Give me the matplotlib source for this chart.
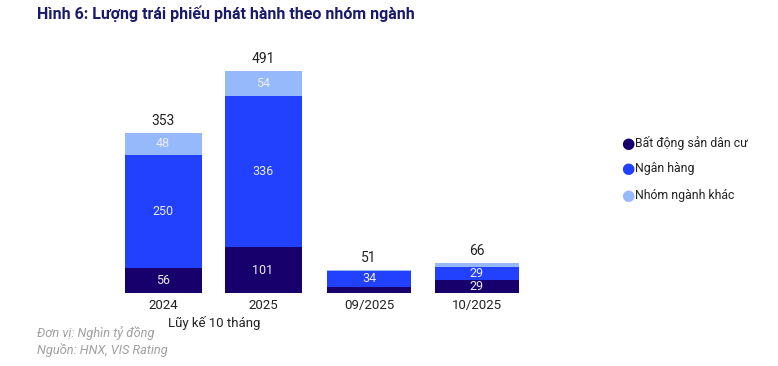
import matplotlib
matplotlib.use('Agg')
import matplotlib.pyplot as plt
import numpy as np

plt.rcParams['font.family'] = ['Roboto', 'DejaVu Sans']

# data (nghìn tỷ đồng)
cum_labels = ['2024', '2025']
cum_bds = [56, 101]
cum_bank = [250, 336]
cum_other = [48, 54]
cum_total = [353, 491]

month_labels = ['09/2025', '10/2025']
month_bds = [14, 29]
month_bank = [34, 29]
month_other = [3, 8]
month_total = [51, 66]

series_names = ['Bất động sản dân cư', 'Ngân hàng', 'Nhóm ngành khác']
colors = ['#17006b', '#2141ff', '#96b9fb']

W, H = 778, 366
fig = plt.figure(figsize=(W / 100, H / 100), dpi=100)

base_y = 293
top_y = 40
ymax = 560


def px_axes(x0, x1):
    return fig.add_axes([x0 / W, 1 - base_y / H, (x1 - x0) / W, (base_y - top_y) / H])


def draw(ax, labels, bds, bank, other, totals):
    x = np.arange(len(labels))
    bottom = np.zeros(len(labels))
    for vals, col in zip([bds, bank, other], colors):
        vals = np.array(vals, dtype=float)
        ax.bar(x, vals, width=0.77, bottom=bottom, color=col, linewidth=0)
        for xi, b, v in zip(x, bottom, vals):
            if v >= 20:
                ax.text(xi, b + v / 2, f'{int(v)}', ha='center', va='center',
                        color='#ececf6', fontsize=9)
        bottom += vals
    for xi, t in zip(x, totals):
        ax.text(xi, t + 12, f'{t}', ha='center', va='bottom', color='#222222', fontsize=10)
    ax.set_xlim(-0.5, len(labels) - 0.5)
    ax.set_ylim(0, ymax)
    ax.set_xticks(x)
    ax.set_xticklabels(labels, fontsize=9.5, color='#222222')
    ax.tick_params(axis='x', length=0, pad=4)
    ax.set_yticks([])
    for s in ax.spines.values():
        s.set_visible(False)
    ax.patch.set_alpha(0)


ax1 = px_axes(113, 313)
draw(ax1, cum_labels, cum_bds, cum_bank, cum_other, cum_total)
ax2 = px_axes(315, 531)
draw(ax2, month_labels, month_bds, month_bank, month_other, month_total)

fig.text(214 / W, 1 - 323 / H, 'Lũy kế 10 tháng', ha='center', va='center',
         fontsize=9.5, color='#222222')

fig.text(37 / W, 1 - 14 / H, 'Hình 6: Lượng trái phiếu phát hành theo nhóm ngành',
         ha='left', va='center', fontsize=11.5, fontweight='bold', color='#1a1a6b')

fig.text(37 / W, 1 - 333 / H, 'Đơn vị: Nghìn tỷ đồng', ha='left', va='center',
         fontsize=9.2, style='italic', color='#a0a0a0')
fig.text(37 / W, 1 - 350 / H, 'Nguồn: HNX, VIS Rating', ha='left', va='center',
         fontsize=9.2, style='italic', color='#a0a0a0')

# legend
for i, (name, col) in enumerate(zip(series_names, colors)):
    y = 1 - (143 + i * 26) / H
    fig.text(628 / W, y, '●', ha='center', va='center', fontsize=11, color=col,
             family=['DejaVu Sans'])
    fig.text(635 / W, y, name, ha='left', va='center', fontsize=8.8, color='#222222')

fig.savefig('out.png', dpi=100)
